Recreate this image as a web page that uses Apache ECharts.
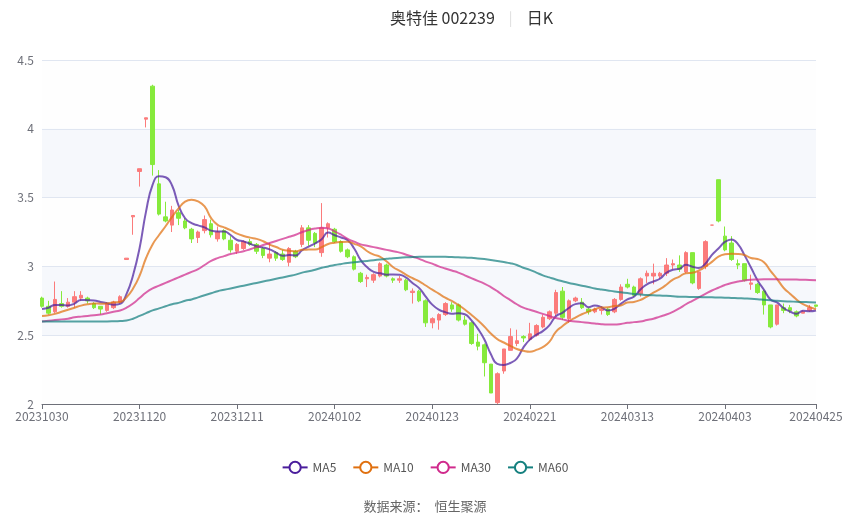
<!DOCTYPE html>
<html><head><meta charset="utf-8">
<script src="https://cdn.jsdelivr.net/npm/echarts@6/dist/echarts.min.js"></script>
<style>html,body{margin:0;padding:0;background:#fff}#c{width:850px;height:517px}</style>
</head><body><div id="c"></div>
<script>
const dates = [
'20231030','20231031',
'20231101','20231102','20231103','20231106','20231107','20231108','20231109','20231110','20231113','20231114','20231115','20231116','20231117','20231120','20231121','20231122','20231123','20231124','20231127','20231128','20231129','20231130',
'20231201','20231204','20231205','20231206','20231207','20231208','20231211','20231212','20231213','20231214','20231215','20231218','20231219','20231220','20231221','20231222','20231225','20231226','20231227','20231228','20231229',
'20240102','20240103','20240104','20240105','20240108','20240109','20240110','20240111','20240112','20240115','20240116','20240117','20240118','20240119','20240122','20240123','20240124','20240125','20240126','20240129','20240130','20240131',
'20240201','20240202','20240205','20240206','20240207','20240208','20240219','20240220','20240221','20240222','20240223','20240226','20240227','20240228','20240229',
'20240301','20240304','20240305','20240306','20240307','20240308','20240311','20240312','20240313','20240314','20240315','20240318','20240319','20240320','20240321','20240322','20240325','20240326','20240327','20240328','20240329',
'20240401','20240402','20240403','20240408','20240409','20240410','20240411','20240412','20240415','20240416','20240417','20240418','20240419','20240422','20240423','20240424','20240425'
];
const opens = [
2.77,2.71,2.67,2.73,2.71,2.74,2.77,2.77,2.73,2.71,
2.68,2.70,2.74,3.05,3.36,3.69,4.07,4.31,3.60,3.36,
3.30,3.39,3.33,3.27,3.21,3.26,3.31,3.20,3.26,3.19,
3.11,3.13,3.18,3.16,3.13,3.06,3.10,3.09,3.03,3.11,
3.16,3.28,3.24,3.10,3.28,3.27,3.18,3.12,3.07,2.95,
2.91,2.90,2.93,3.01,2.91,2.90,2.90,2.81,2.82,2.75,
2.59,2.61,2.65,2.72,2.72,2.61,2.59,2.45,2.43,2.29,
2.01,2.24,2.39,2.44,2.49,2.47,2.50,2.56,2.62,2.66,
2.82,2.62,2.75,2.74,2.69,2.67,2.68,2.69,2.67,2.76,
2.87,2.85,2.80,2.93,2.93,2.93,2.95,3.01,3.01,2.96,
3.10,2.84,3.00,3.30,3.63,3.22,3.17,3.02,3.02,2.87,
2.87,2.82,2.72,2.58,2.70,2.70,2.67,2.66,2.68,2.72
];
const closes = [
2.71,2.66,2.76,2.71,2.74,2.78,2.79,2.75,2.70,2.69,
2.73,2.74,2.78,3.06,3.37,3.71,4.08,3.74,3.38,3.33,
3.41,3.35,3.28,3.20,3.25,3.34,3.23,3.25,3.20,3.12,
3.16,3.18,3.16,3.11,3.08,3.09,3.06,3.05,3.13,3.07,
3.28,3.19,3.17,3.28,3.31,3.18,3.11,3.07,2.98,2.89,
2.92,2.94,3.02,2.93,2.90,2.91,2.83,2.82,2.75,2.59,
2.62,2.65,2.73,2.69,2.61,2.58,2.44,2.42,2.30,2.08,
2.22,2.40,2.49,2.46,2.48,2.51,2.57,2.63,2.67,2.81,
2.63,2.75,2.77,2.70,2.67,2.69,2.69,2.65,2.76,2.85,
2.85,2.79,2.91,2.95,2.95,2.95,3.01,3.02,2.98,3.10,
2.88,2.96,3.18,3.30,3.33,3.12,3.05,3.01,2.90,2.88,
2.81,2.72,2.56,2.72,2.68,2.68,2.64,2.67,2.70,2.71
];
const lows = [
2.70,2.65,2.66,2.70,2.70,2.70,2.75,2.73,2.69,2.65,
2.67,2.69,2.73,3.05,3.23,3.58,4.01,3.66,3.37,3.32,
3.25,3.30,3.27,3.17,3.17,3.24,3.21,3.18,3.19,3.10,
3.09,3.12,3.15,3.09,3.06,3.03,3.04,3.04,3.00,3.06,
3.14,3.15,3.14,3.07,3.21,3.17,3.10,3.06,2.97,2.88,
2.85,2.88,2.92,2.92,2.88,2.88,2.82,2.73,2.74,2.56,
2.55,2.54,2.64,2.67,2.60,2.57,2.43,2.39,2.20,2.08,
2.00,2.22,2.39,2.42,2.45,2.46,2.49,2.55,2.61,2.64,
2.61,2.59,2.74,2.69,2.65,2.66,2.65,2.64,2.66,2.75,
2.84,2.78,2.78,2.88,2.87,2.91,2.93,2.98,2.96,2.95,
2.87,2.83,2.98,3.30,3.32,3.11,3.04,2.98,2.89,2.83,
2.80,2.65,2.55,2.57,2.66,2.66,2.63,2.66,2.67,2.70
];
const highs = [
2.78,2.75,2.89,2.82,2.77,2.82,2.82,2.78,2.74,2.71,
2.74,2.75,2.79,3.06,3.37,3.71,4.08,4.32,3.70,3.47,
3.44,3.41,3.35,3.28,3.26,3.37,3.34,3.29,3.27,3.22,
3.17,3.19,3.20,3.17,3.14,3.17,3.11,3.12,3.14,3.12,
3.30,3.30,3.25,3.46,3.32,3.28,3.19,3.13,3.08,2.96,
2.94,2.95,3.03,3.02,2.92,2.93,2.91,2.84,2.83,2.76,
2.63,2.66,2.74,2.74,2.73,2.64,2.60,2.51,2.44,2.29,
2.23,2.40,2.55,2.54,2.50,2.59,2.58,2.65,2.68,2.83,
2.85,2.76,2.78,2.77,2.70,2.70,2.71,2.70,2.77,2.87,
2.91,2.86,2.92,2.97,3.02,2.96,3.06,3.05,3.08,3.11,
3.10,2.96,3.19,3.30,3.63,3.29,3.22,3.05,3.02,2.94,
2.88,2.83,2.72,2.72,2.73,2.72,2.68,2.68,2.72,2.72
];
const ma5 = [
2.69,2.70,2.72,2.72,2.716,2.73,2.756,2.754,2.752,2.742,
2.732,2.722,2.728,2.80,2.936,3.132,3.40,3.592,3.656,3.648,
3.588,3.442,3.35,3.314,3.298,3.284,3.26,3.254,3.254,3.228,
3.192,3.182,3.164,3.146,3.138,3.124,3.10,3.078,3.082,3.08,
3.118,3.144,3.168,3.198,3.246,3.226,3.21,3.19,3.13,3.046,
2.994,2.96,2.95,2.94,2.942,2.94,2.918,2.878,2.842,2.78,
2.722,2.686,2.668,2.656,2.66,2.652,2.61,2.548,2.47,2.364,
2.292,2.284,2.298,2.33,2.41,2.468,2.502,2.53,2.572,2.638,
2.662,2.698,2.726,2.732,2.704,2.716,2.704,2.68,2.692,2.728,
2.76,2.78,2.832,2.87,2.89,2.91,2.954,2.976,2.982,3.012,
2.998,2.988,3.02,3.084,3.13,3.178,3.196,3.162,3.082,2.992,
2.90,2.83,2.76,2.738,2.698,2.672,2.656,2.678,2.674,2.68
];
const ma10 = [
2.64,2.645,2.655,2.67,2.685,2.70,2.715,2.725,2.73,2.729,
2.731,2.739,2.741,2.776,2.839,2.932,3.061,3.16,3.228,3.292,
3.36,3.421,3.471,3.485,3.473,3.436,3.351,3.302,3.284,3.263,
3.238,3.221,3.209,3.20,3.183,3.158,3.141,3.121,3.114,3.109,
3.121,3.122,3.123,3.14,3.163,3.172,3.177,3.179,3.164,3.146,
3.11,3.085,3.07,3.035,2.994,2.967,2.939,2.914,2.891,2.861,
2.831,2.802,2.773,2.749,2.72,2.687,2.648,2.608,2.563,2.512,
2.472,2.447,2.423,2.40,2.387,2.38,2.393,2.414,2.451,2.524,
2.565,2.60,2.628,2.652,2.671,2.689,2.701,2.703,2.712,2.716,
2.738,2.742,2.756,2.781,2.809,2.835,2.867,2.904,2.926,2.951,
2.954,2.971,2.998,3.033,3.071,3.088,3.092,3.091,3.083,3.061,
3.054,3.03,2.968,2.91,2.845,2.801,2.76,2.726,2.706,2.689
];
const ma30 = [
2.60,2.605,2.61,2.615,2.62,2.63,2.635,2.64,2.645,2.65,
2.66,2.67,2.68,2.70,2.73,2.77,2.81,2.84,2.86,2.88,
2.90,2.92,2.94,2.96,2.98,3.01,3.04,3.06,3.075,3.09,
3.10,3.11,3.125,3.14,3.155,3.17,3.185,3.20,3.215,3.23,
3.25,3.265,3.275,3.28,3.275,3.255,3.23,3.20,3.18,3.16,
3.15,3.14,3.13,3.12,3.11,3.10,3.085,3.07,3.055,3.035,
3.02,3.00,2.985,2.97,2.955,2.935,2.915,2.895,2.875,2.85,
2.82,2.785,2.755,2.725,2.70,2.685,2.67,2.655,2.64,2.625,
2.615,2.605,2.60,2.595,2.59,2.585,2.58,2.578,2.578,2.582,
2.59,2.595,2.60,2.61,2.62,2.635,2.65,2.67,2.695,2.725,
2.75,2.775,2.80,2.825,2.845,2.865,2.88,2.89,2.898,2.903,
2.905,2.906,2.906,2.906,2.905,2.905,2.904,2.903,2.902,2.90
];
const ma60 = [
2.60,2.60,2.60,2.60,2.60,2.60,2.60,2.60,2.60,2.60,
2.60,2.601,2.603,2.607,2.62,2.64,2.66,2.68,2.695,2.71,
2.725,2.735,2.75,2.76,2.775,2.79,2.805,2.82,2.83,2.84,
2.85,2.86,2.87,2.88,2.89,2.90,2.91,2.92,2.93,2.94,
2.955,2.965,2.975,2.99,3.00,3.01,3.018,3.025,3.03,3.035,
3.04,3.045,3.05,3.055,3.06,3.063,3.066,3.068,3.07,3.07,
3.07,3.07,3.07,3.068,3.066,3.064,3.062,3.058,3.053,3.047,
3.04,3.032,3.023,3.01,2.99,2.975,2.955,2.935,2.92,2.905,
2.892,2.88,2.87,2.86,2.85,2.84,2.832,2.825,2.818,2.812,
2.806,2.80,2.796,2.792,2.79,2.788,2.786,2.783,2.78,2.779,
2.778,2.777,2.776,2.775,2.774,2.773,2.771,2.769,2.767,2.765,
2.762,2.758,2.754,2.75,2.747,2.745,2.743,2.741,2.74,2.738
];
const yTicks = {min: 2, max: 4.5, step: 0.5};
const maNames = ['MA5','MA10','MA30','MA60'];
const maColors = ['#4a1d9c','#e0700f','#d02a8c','#15807f'];

const kData = dates.map((d, i) => [opens[i], closes[i], lows[i], highs[i]]);
const maData = [ma5, ma10, ma30, ma60];
const lastIdx = dates.length - 1;
const showIdx = (i) => i % 15 === 0 || i === lastIdx;

const chart = echarts.init(document.getElementById('c'), null, {renderer: 'canvas'});
const font = "'Noto Sans CJK SC','Noto Sans',sans-serif";
chart.setOption({
  animation: false,
  textStyle: {fontFamily: font},
  title: {
    left: 385, top: 5,
    text: '{a|奥特佳 002239}{s||}{b|日K}',
    textStyle: {
      fontWeight: 'normal',
      rich: {
        a: {fontSize: 16, color: '#333', fontWeight: 'normal', fontFamily: font},
        s: {fontSize: 14, color: '#ddd', fontWeight: 'normal', padding: [0, 14, 0, 14], fontFamily: font},
        b: {fontSize: 16, color: '#333', fontWeight: 'normal', fontFamily: font}
      }
    }
  },
  legend: {
    data: maNames,
    bottom: 38,
    left: 'center',
    itemGap: 16,
    itemWidth: 25,
    itemHeight: 14,
    textStyle: {color: '#555', fontSize: 12, fontFamily: font},
    lineStyle: {opacity: 1},
    itemStyle: {opacity: 1}
  },
  graphic: [{
    type: 'text', left: 'center', top: 500,
    style: {text: '数据来源：  恒生聚源', fill: '#666', fontSize: 13, fontFamily: font}
  }],
  grid: {left: 42, right: 34, top: 60, bottom: 113},
  xAxis: {
    type: 'category',
    data: dates,
    boundaryGap: false,
    axisLine: {lineStyle: {color: '#6E7079'}},
    axisTick: {show: true, interval: (i) => showIdx(i)},
    axisLabel: {interval: (i) => showIdx(i), color: '#6E7079', fontSize: 12, margin: 6},
    splitLine: {show: false}
  },
  yAxis: {
    type: 'value',
    min: yTicks.min, max: yTicks.max, interval: yTicks.step,
    scale: true,
    axisLine: {show: false},
    axisTick: {show: false},
    axisLabel: {color: '#6E7079', fontSize: 12},
    splitLine: {lineStyle: {color: '#E0E6F1'}},
    splitArea: {show: true, areaStyle: {color: ['rgba(250,250,250,0.2)', 'rgba(210,219,238,0.2)']}}
  },
  series: [
    {
      type: 'candlestick',
      name: '日K',
      data: kData,
      barWidth: 4,
      clip: false,
      itemStyle: {
        color: '#fb7b7b', color0: '#86ea3c',
        borderColor: '#fb7b7b', borderColor0: '#86ea3c',
        borderWidth: 1
      }
    }
  ].concat(maNames.map((n, k) => ({
    type: 'line',
    name: n,
    data: maData[k],
    smooth: true,
    symbol: 'emptyCircle',
    showSymbol: false,
    color: maColors[k],
    lineStyle: {width: 2, opacity: 0.72, color: maColors[k]},
    itemStyle: {color: maColors[k]},
    z: 3
  })))
});
</script>
</body></html>
